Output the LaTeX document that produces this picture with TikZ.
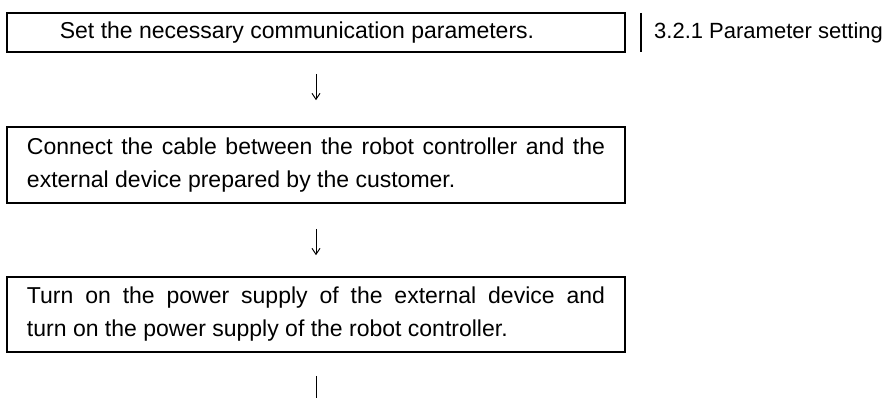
\documentclass[tikz,border=0pt]{standalone}
\usepackage{fontspec}
\setmainfont{Liberation Sans}
\usetikzlibrary{arrows.meta}
\begin{document}
\begin{tikzpicture}[x=1pt,y=1pt,font=\fontsize{23pt}{33pt}\selectfont,
   stepbox/.style={draw,line width=1.6pt,rectangle,minimum width=618pt,inner sep=0pt},
   textbox/.style={stepbox,text width=578pt,align=justify,minimum height=76pt},
   flow/.style={-{Straight Barb[length=6pt,width=8pt]},line width=1pt}]
 \useasboundingbox (0,0) rectangle (888,-398);
 \node[stepbox,minimum height=39pt] (set) at (316,-32.5)
   {\hspace*{-38pt}Set the necessary communication parameters.};
 \node[anchor=west,minimum height=39pt,inner sep=0pt,font=\fontsize{22pt}{33pt}\selectfont] (ref) at (641,-32.5)
   {\hspace*{13pt}3.2.1 Parameter setting};
 \draw[line width=1.6pt] (ref.north west) -- (ref.south west);
 \node[textbox] (cable) at (316,-165)
   {Connect the cable between the robot controller and the\linebreak external device prepared by the customer.};
 \node[textbox,minimum height=75pt] (power) at (316,-314.5)
   {Turn on the power supply of the external device and\linebreak turn on the power supply of the robot controller.};
 \coordinate (next) at (316,-430);
 % arrows between the steps
 \draw[flow,shorten <=21pt,shorten >=26pt] (set) -- (cable);
 \draw[flow,shorten <=25pt,shorten >=21pt] (cable) -- (power);
 \draw[flow,shorten <=23pt] (power) -- (next);
\end{tikzpicture}
\end{document}
